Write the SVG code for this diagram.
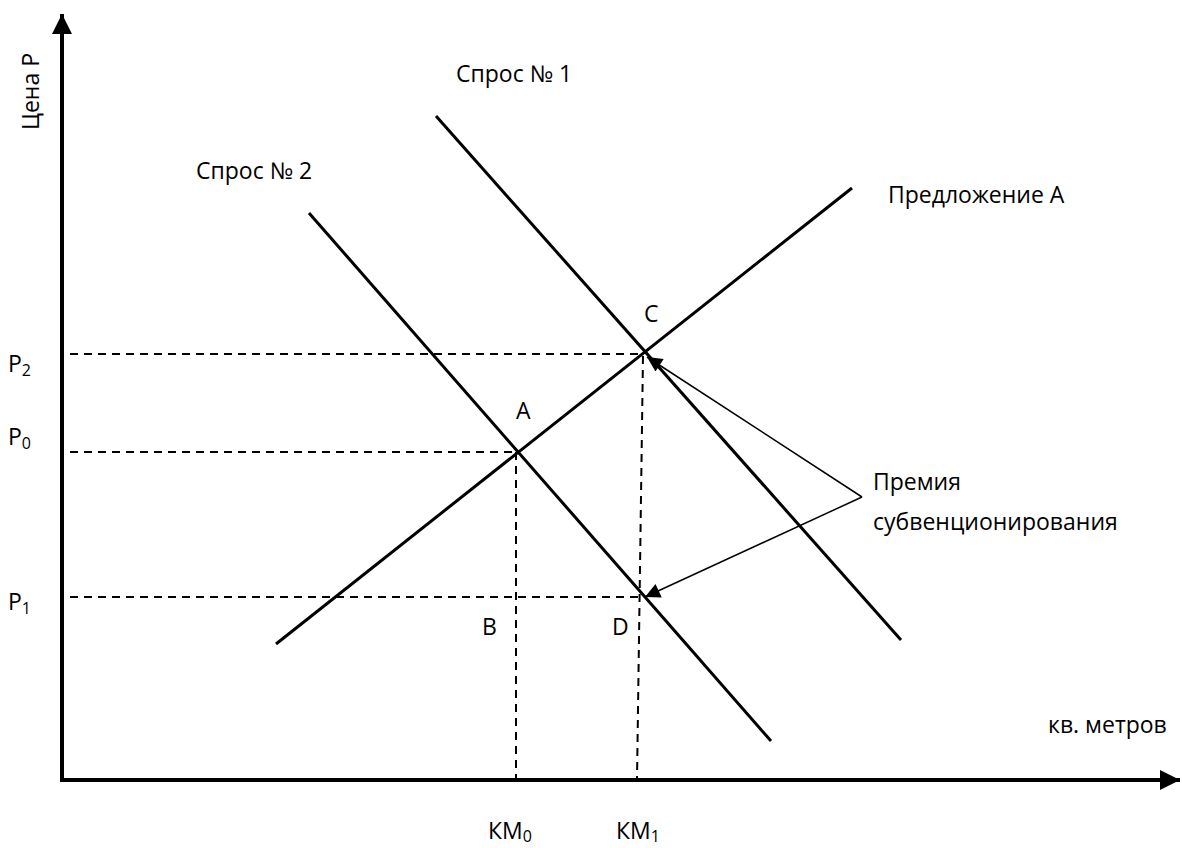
<svg xmlns="http://www.w3.org/2000/svg" width="1182" height="848" viewBox="0 0 1182 848">
<style>
text{font-family:"Open Sans","Noto Sans",sans-serif;font-size:23px;fill:#000}
.sub{font-size:16px}
.axis{stroke:#000;stroke-width:4;fill:none}
.curve{stroke:#000;stroke-width:3;fill:none}
.dash{stroke:#000;stroke-width:2;stroke-dasharray:8,6;fill:none}
.thin{stroke:#000;stroke-width:1.5;fill:none}
</style>
<defs>
<marker id="ah" viewBox="0 0 10 10" refX="10" refY="5" markerWidth="5" markerHeight="5" orient="auto" markerUnits="strokeWidth"><path d="M0,0L10,5L0,10z" fill="#000"/></marker>
<marker id="ah2" viewBox="0 0 10 10" refX="10" refY="5" markerWidth="12" markerHeight="10" orient="auto" markerUnits="strokeWidth"><path d="M0,0L10,5L0,10z" fill="#000"/></marker>
</defs>
<g id="axes">
<line class="axis" x1="62" y1="782" x2="62" y2="14" marker-end="url(#ah)"/>
<line class="axis" x1="60" y1="780" x2="1180" y2="780" marker-end="url(#ah)"/>
</g>
<g id="connectors">
<line class="curve" x1="276" y1="644" x2="852" y2="188"/>
<line class="curve" x1="436" y1="116" x2="901" y2="640"/>
<line class="curve" x1="309" y1="213" x2="771" y2="741"/>
<line class="dash" x1="70" y1="354" x2="643" y2="354"/>
<line class="dash" x1="70" y1="452" x2="516" y2="452"/>
<line class="dash" x1="70" y1="597" x2="641" y2="597"/>
<line class="dash" x1="516" y1="452" x2="516" y2="780"/>
<line class="dash" x1="643" y1="356" x2="637" y2="780"/>
<line class="thin" x1="862" y1="497" x2="647" y2="357" marker-end="url(#ah2)"/>
<line class="thin" x1="862" y1="497" x2="645" y2="597" marker-end="url(#ah2)"/>
</g>
<g id="labels">
<text transform="translate(39,130) rotate(-90)">Цена P</text>
<text x="456" y="82">Спрос № 1</text>
<text x="196" y="179">Спрос № 2</text>
<text x="888" y="203">Предложение А</text>
<text x="644" y="322">C</text>
<text x="516" y="419">A</text>
<text x="482" y="635">B</text>
<text x="612" y="635">D</text>
<text x="873" y="490">Премия</text>
<text x="873" y="530">субвенционирования</text>
<text x="1048" y="733">кв. метров</text>
<text x="8" y="372">P<tspan class="sub" dy="4">2</tspan></text>
<text x="8" y="445">P<tspan class="sub" dy="4">0</tspan></text>
<text x="8" y="610">P<tspan class="sub" dy="4">1</tspan></text>
<text x="488" y="839">КМ<tspan class="sub" dy="3">0</tspan></text>
<text x="616" y="839">КМ<tspan class="sub" dy="3">1</tspan></text>
</g>
</svg>
